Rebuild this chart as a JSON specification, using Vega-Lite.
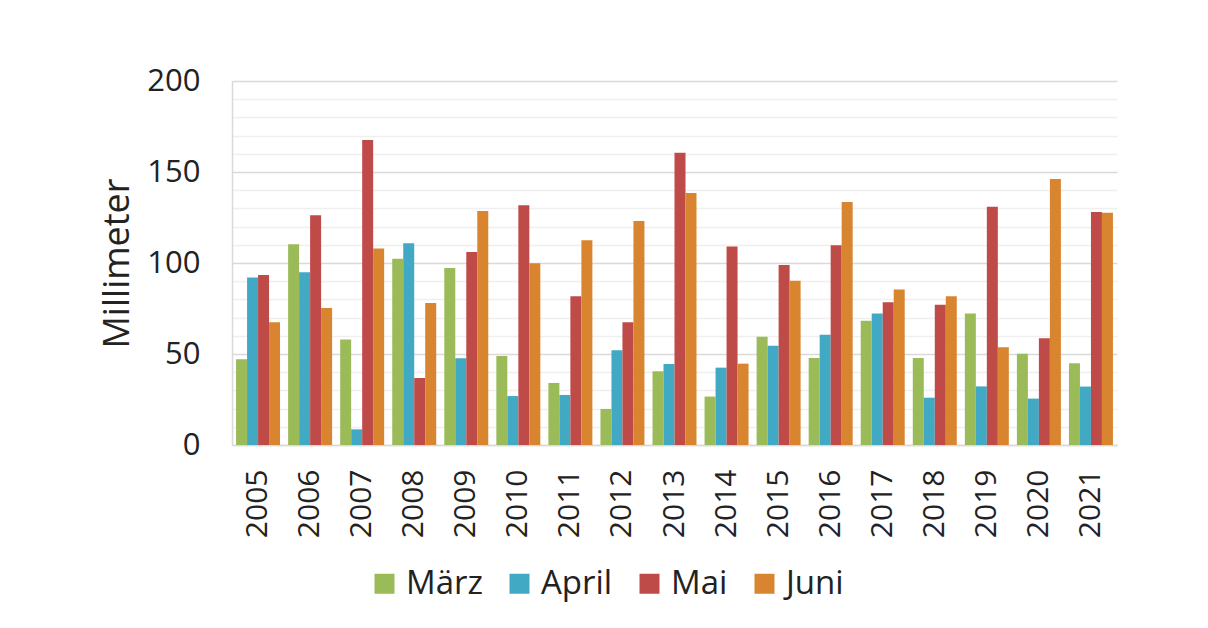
{
  "$schema": "https://vega.github.io/schema/vega-lite/v6.json",
  "width": 885,
  "height": 364,
  "autosize": "none",
  "padding": {"left": 232, "top": 81, "right": 91, "bottom": 183},
  "background": "white",
  "config": {
    "view": {"stroke": null},
    "font": "Open Sans"
  },
  "data": {
    "values": [
      {"Jahr": "2005", "Monat": "März", "mm": 47.1},
      {"Jahr": "2005", "Monat": "April", "mm": 92.1},
      {"Jahr": "2005", "Monat": "Mai", "mm": 93.4},
      {"Jahr": "2005", "Monat": "Juni", "mm": 67.4},
      {"Jahr": "2006", "Monat": "März", "mm": 110.3},
      {"Jahr": "2006", "Monat": "April", "mm": 94.9},
      {"Jahr": "2006", "Monat": "Mai", "mm": 126.2},
      {"Jahr": "2006", "Monat": "Juni", "mm": 75.3},
      {"Jahr": "2007", "Monat": "März", "mm": 57.9},
      {"Jahr": "2007", "Monat": "April", "mm": 8.6},
      {"Jahr": "2007", "Monat": "Mai", "mm": 167.6},
      {"Jahr": "2007", "Monat": "Juni", "mm": 108},
      {"Jahr": "2008", "Monat": "März", "mm": 102.4},
      {"Jahr": "2008", "Monat": "April", "mm": 110.8},
      {"Jahr": "2008", "Monat": "Mai", "mm": 36.8},
      {"Jahr": "2008", "Monat": "Juni", "mm": 78},
      {"Jahr": "2009", "Monat": "März", "mm": 97.3},
      {"Jahr": "2009", "Monat": "April", "mm": 47.6},
      {"Jahr": "2009", "Monat": "Mai", "mm": 106},
      {"Jahr": "2009", "Monat": "Juni", "mm": 128.6},
      {"Jahr": "2010", "Monat": "März", "mm": 48.9},
      {"Jahr": "2010", "Monat": "April", "mm": 26.9},
      {"Jahr": "2010", "Monat": "Mai", "mm": 131.7},
      {"Jahr": "2010", "Monat": "Juni", "mm": 99.8},
      {"Jahr": "2011", "Monat": "März", "mm": 34.1},
      {"Jahr": "2011", "Monat": "April", "mm": 27.5},
      {"Jahr": "2011", "Monat": "Mai", "mm": 81.7},
      {"Jahr": "2011", "Monat": "Juni", "mm": 112.5},
      {"Jahr": "2012", "Monat": "März", "mm": 19.8},
      {"Jahr": "2012", "Monat": "April", "mm": 52},
      {"Jahr": "2012", "Monat": "Mai", "mm": 67.4},
      {"Jahr": "2012", "Monat": "Juni", "mm": 123.1},
      {"Jahr": "2013", "Monat": "März", "mm": 40.5},
      {"Jahr": "2013", "Monat": "April", "mm": 44.5},
      {"Jahr": "2013", "Monat": "Mai", "mm": 160.6},
      {"Jahr": "2013", "Monat": "Juni", "mm": 138.5},
      {"Jahr": "2014", "Monat": "März", "mm": 26.6},
      {"Jahr": "2014", "Monat": "April", "mm": 42.5},
      {"Jahr": "2014", "Monat": "Mai", "mm": 109},
      {"Jahr": "2014", "Monat": "Juni", "mm": 44.7},
      {"Jahr": "2015", "Monat": "März", "mm": 59.5},
      {"Jahr": "2015", "Monat": "April", "mm": 54.6},
      {"Jahr": "2015", "Monat": "Mai", "mm": 98.9},
      {"Jahr": "2015", "Monat": "Juni", "mm": 90.3},
      {"Jahr": "2016", "Monat": "März", "mm": 47.8},
      {"Jahr": "2016", "Monat": "April", "mm": 60.6},
      {"Jahr": "2016", "Monat": "Mai", "mm": 109.7},
      {"Jahr": "2016", "Monat": "Juni", "mm": 133.5},
      {"Jahr": "2017", "Monat": "März", "mm": 68.3},
      {"Jahr": "2017", "Monat": "April", "mm": 72.3},
      {"Jahr": "2017", "Monat": "Mai", "mm": 78.4},
      {"Jahr": "2017", "Monat": "Juni", "mm": 85.5},
      {"Jahr": "2018", "Monat": "März", "mm": 47.8},
      {"Jahr": "2018", "Monat": "April", "mm": 26},
      {"Jahr": "2018", "Monat": "Mai", "mm": 77.1},
      {"Jahr": "2018", "Monat": "Juni", "mm": 81.7},
      {"Jahr": "2019", "Monat": "März", "mm": 72.2},
      {"Jahr": "2019", "Monat": "April", "mm": 32.2},
      {"Jahr": "2019", "Monat": "Mai", "mm": 130.9},
      {"Jahr": "2019", "Monat": "Juni", "mm": 53.7},
      {"Jahr": "2020", "Monat": "März", "mm": 50.2},
      {"Jahr": "2020", "Monat": "April", "mm": 25.5},
      {"Jahr": "2020", "Monat": "Mai", "mm": 58.6},
      {"Jahr": "2020", "Monat": "Juni", "mm": 146.2},
      {"Jahr": "2021", "Monat": "März", "mm": 44.9},
      {"Jahr": "2021", "Monat": "April", "mm": 32.1},
      {"Jahr": "2021", "Monat": "Mai", "mm": 128},
      {"Jahr": "2021", "Monat": "Juni", "mm": 127.6}
    ]
  },
  "mark": {"type": "bar"},
  "encoding": {
    "x": {
      "field": "Jahr",
      "type": "nominal",
      "scale": {"paddingInner": 0.155, "paddingOuter": 0.078},
      "axis": {
        "title": null,
        "labelAngle": -90,
        "labelFontSize": 30,
        "labelColor": "#222222",
        "labelPadding": 24,
        "ticks": false,
        "domainColor": "#d9d9d9",
        "domainWidth": 1.5
      }
    },
    "xOffset": {
      "field": "Monat",
      "type": "nominal",
      "sort": ["März", "April", "Mai", "Juni"],
      "scale": {"paddingInner": 0, "paddingOuter": 0}
    },
    "y": {
      "field": "mm",
      "type": "quantitative",
      "scale": {"domain": [0, 200], "nice": false},
      "axis": {
        "title": "Millimeter",
        "titleFontSize": 36,
        "titleFontWeight": "normal",
        "titleColor": "#222222",
        "titlePadding": 10,
        "values": [0, 10, 20, 30, 40, 50, 60, 70, 80, 90, 100, 110, 120, 130, 140, 150, 160, 170, 180, 190, 200],
        "labelExpr": "datum.value % 50 === 0 ? datum.label : ''",
        "labelFontSize": 31,
        "labelColor": "#222222",
        "labelPadding": 32,
        "ticks": false,
        "domainColor": "#d9d9d9",
        "domainWidth": 1.5,
        "gridColor": {"condition": {"test": "datum.value % 50 === 0", "value": "#d9d9d9"}, "value": "#efefef"},
        "gridWidth": 1.5
      }
    },
    "color": {
      "field": "Monat",
      "type": "nominal",
      "sort": ["März", "April", "Mai", "Juni"],
      "scale": {"domain": ["März", "April", "Mai", "Juni"], "range": ["#9bbb59", "#42a9c5", "#bf4b49", "#d9842f"]},
      "legend": {
        "title": null,
        "orient": "none",
        "direction": "horizontal",
        "legendX": 136,
        "legendY": 486,
        "symbolType": "square",
        "symbolSize": 400,
        "symbolStrokeWidth": 0,
        "labelFontSize": 33,
        "labelColor": "#222222",
        "labelOffset": 5,
        "columnPadding": 20
      }
    }
  }
}
